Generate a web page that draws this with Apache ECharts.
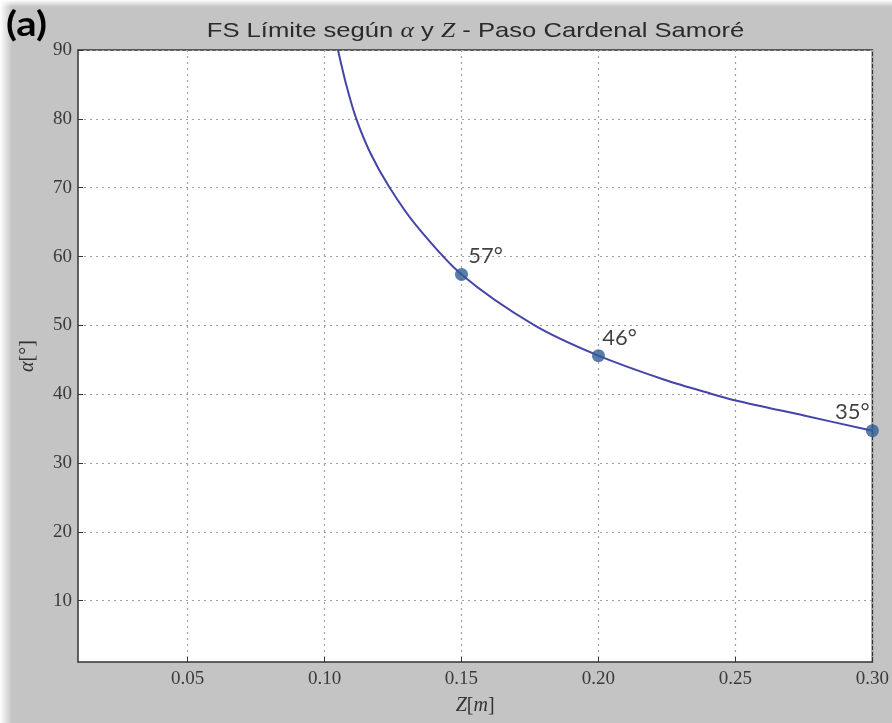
<!DOCTYPE html>
<html>
<head>
<meta charset="utf-8">
<script src="https://cdn.jsdelivr.net/npm/echarts@6/dist/echarts.min.js"></script>
<style>
html,body{margin:0;padding:0;background:#c4c4c4;}
#chart{width:892px;height:723px;}
</style>
</head>
<body>
<div id="chart"></div>
<script>
// Curve
const curveZ     = [0.1049, 0.1079, 0.1116, 0.1169, 0.1238, 0.1333, 0.1500, 0.1767, 0.2000, 0.2241, 0.2417, 0.2500, 0.2750, 0.3000];
const curveAlpha = [90.0,   85.0,   80.0,   74.9,   70.0,   64.6,   57.4,   50.0,   45.6,   42.1,   40.0,   39.1,   36.9,   34.7];
// Marked points
const pointZ      = [0.15, 0.20, 0.30];
const pointAlpha  = [57.4, 45.6, 34.7];
const pointLabels = ['57°', '46°', '35°'];
// Ticks
const xTicks = [0.05, 0.10, 0.15, 0.20, 0.25, 0.30];
const yTicks = [10, 20, 30, 40, 50, 60, 70, 80, 90];

const chart = echarts.init(document.getElementById('chart'), null, {renderer: 'canvas'});

const serif = '"Liberation Serif", "DejaVu Serif", serif';
const gridLine = {show: true, lineStyle: {color: '#a0a0a0', type: [2, 4], width: 1.2}};

chart.setOption({
  backgroundColor: '#c4c4c4',
  animation: false,
  graphic: [
    {type: 'rect', left: 0, top: 0, shape: {width: 12, height: 723}, silent: true,
     style: {fill: new echarts.graphic.LinearGradient(0, 0, 1, 0, [{offset: 0, color: 'rgba(255,255,255,1)'}, {offset: 1, color: 'rgba(255,255,255,0)'}])}},
    {type: 'rect', left: 0, top: 0, shape: {width: 892, height: 7}, silent: true,
     style: {fill: new echarts.graphic.LinearGradient(0, 0, 0, 1, [{offset: 0, color: 'rgba(255,255,255,1)'}, {offset: 1, color: 'rgba(255,255,255,0)'}])}},
    {type: 'text', x: 6, y: 8, scaleX: 1.18, silent: true,
     style: {text: '(a)', fontFamily: 'Lato, "Open Sans", sans-serif', fontWeight: 'bold', fontSize: 34, fill: '#000'}},
    {type: 'text', x: 475.5, y: 31, scaleX: 1.22, silent: true,
     style: {
       text: 'FS Límite según {m|α} y {m|Z} - Paso Cardenal Samoré',
       align: 'center', verticalAlign: 'middle',
       fontFamily: '"Liberation Sans", Arial, sans-serif', fontSize: 21, fill: '#2a2a2a',
       rich: {m: {fontFamily: serif, fontStyle: 'italic', fontSize: 21, fill: '#2a2a2a'}}
     }}
  ],
  grid: {
    left: 78, right: 19, top: 50, bottom: 61,
    show: true, backgroundColor: '#ffffff', borderColor: '#333', borderWidth: 1.5
  },
  xAxis: {
    type: 'value', min: 0.01, max: 0.30,
    name: '{i|Z}[{i|m}]', nameLocation: 'middle', nameGap: 34,
    nameTextStyle: {fontFamily: serif, fontSize: 20, color: '#333',
      rich: {i: {fontFamily: serif, fontStyle: 'italic', fontSize: 20, color: '#333'}}},
    axisLine: {show: false},
    axisTick: {show: true, inside: true, length: 5, customValues: xTicks, lineStyle: {color: '#333'}},
    axisLabel: {customValues: xTicks, margin: 8, fontFamily: serif, fontSize: 19, color: '#3a3a3a',
      formatter: v => v.toFixed(2)},
    splitLine: gridLine
  },
  yAxis: {
    type: 'value', min: 1.1, max: 90,
    name: '{i|α}[°]', nameLocation: 'middle', nameGap: 40, nameRotate: 90,
    nameTextStyle: {fontFamily: serif, fontSize: 20, color: '#333',
      rich: {i: {fontFamily: serif, fontStyle: 'italic', fontSize: 20, color: '#333'}}},
    axisLine: {show: false},
    axisTick: {show: true, inside: true, length: 5, customValues: yTicks, lineStyle: {color: '#333'}},
    axisLabel: {customValues: yTicks, margin: 6, fontFamily: serif, fontSize: 19, color: '#3a3a3a'},
    splitLine: gridLine
  },
  series: [
    {
      type: 'line',
      data: curveZ.map((z, i) => [z, curveAlpha[i]]),
      smooth: 0.3,
      showSymbol: false,
      lineStyle: {color: '#4545a8', width: 2},
      z: 2
    },
    {
      type: 'scatter',
      data: pointZ.map((z, i) => ({
        value: [z, pointAlpha[i]],
        label: i === 2
          ? {position: 'top', offset: [-20, 4]}
          : (i === 0 ? {position: 'top', offset: [24, 4]} : {position: 'top', offset: [21, 5]})
      })),
      symbolSize: 13,
      clip: false,
      itemStyle: {color: '#2e5e94'},
      label: {
        show: true,
        formatter: p => pointLabels[p.dataIndex],
        fontFamily: 'Lato, "Open Sans", sans-serif', fontSize: 22, color: '#111'
      },
      z: 3
    }
  ]
});
</script>
</body>
</html>
